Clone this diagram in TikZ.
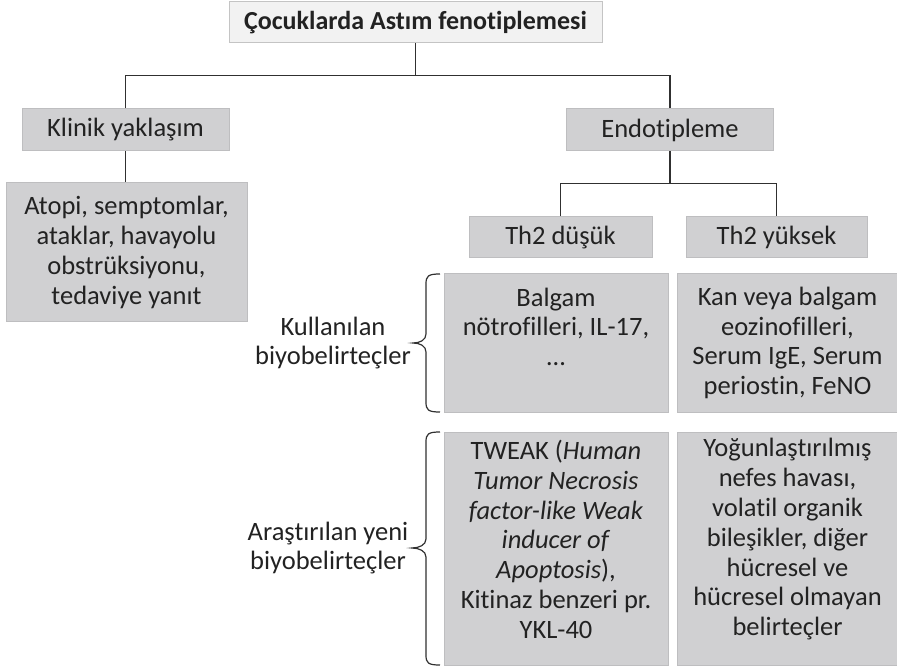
\documentclass[tikz,border=0pt]{standalone}
\usepackage{fontspec}
\setmainfont{Carlito}[Ligatures={NoCommon,NoContextual,NoRare},Contextuals=NoAlternate]
\usetikzlibrary{calc}
\definecolor{txt}{HTML}{222222}
\definecolor{boxfill}{HTML}{D0D0D2}
\definecolor{boxline}{HTML}{BEBEC0}
\definecolor{titlefill}{HTML}{F2F2F2}
\definecolor{titleline}{HTML}{C4C4C4}
\definecolor{conn}{HTML}{303030}
\begin{document}
\begin{tikzpicture}[x=1pt,y=-1pt,
  every node/.style={text=txt,font=\fontsize{26.5}{29.8}\selectfont,inner sep=0pt},
  gbox/.style={draw=boxline,fill=boxfill,line width=1pt,align=center},
  conline/.style={draw=conn,line width=1.3pt},
  bracepath/.style={draw=conn,line width=1.2pt}]
\useasboundingbox (0,0) rectangle (897,668);
% title
\node[draw=titleline,fill=titlefill,line width=1pt,minimum width=373pt,minimum height=41pt,
      font=\fontsize{26}{29.5}\selectfont\bfseries] (title) at (415.5,22.5) {Çocuklarda Astım fenotiplemesi};
% level 1
\node[gbox,minimum width=207pt,minimum height=42pt] (klinik) at (125.5,130) {Klinik yaklaşım};
\node[gbox,minimum width=207pt,minimum height=42pt] (endo) at (670,130) {Endotipleme};
\node[gbox,minimum width=241pt,minimum height=139pt] (atopi) at (126.5,252.5)
  {Atopi, semptomlar,\\ataklar, havayolu\\obstrüksiyonu,\\tedaviye yanıt};
% level 2
\node[gbox,minimum width=183pt,minimum height=41pt] (th2d) at (560.5,237.5) {Th2 düşük};
\node[gbox,minimum width=181pt,minimum height=41pt] (th2y) at (776.5,237.5) {Th2 yüksek};
% biomarker boxes
\node[gbox,minimum width=224pt,minimum height=138pt] (balgam) at (556,343)
  {Balgam\\nötrofilleri, IL-17,\\…\\[-6pt]\strut};
\node[gbox,minimum width=221pt,minimum height=138pt] (kan) at (787.5,343)
  {Kan veya balgam\\eozinofilleri,\\Serum IgE, Serum\\periostin, FeNO};
\node[gbox,minimum width=224pt,minimum height=233pt] (tweak) at (556,548.5)
  {TWEAK (\textit{Human}\\\textit{Tumor Necrosis}\\\textit{factor-like Weak}\\\textit{inducer of}\\\textit{Apoptosis}),\\Kitinaz benzeri pr.\\YKL-40\\[-20pt]\strut};
\node[gbox,minimum width=221pt,minimum height=233pt] (yogun) at (787.5,548.5)
  {Yoğunlaştırılmış\\nefes havası,\\volatil organik\\bileşikler, diğer\\hücresel ve\\hücresel olmayan\\belirteçler\\[-16pt]\strut};
% connectors
\coordinate (j1) at ($(title.south)+(0,32)$);
\draw[conline] (title.south) -- (j1);
\draw[conline] (klinik.north) |- (j1) -| (endo.north);
\draw[conline] (klinik.south) -- (klinik.south |- atopi.north);
\coordinate (j2) at ($(endo.south)+(0,32)$);
\draw[conline] (endo.south) -- (j2);
\draw[conline] (th2d.north) |- (j2) -| (th2y.north);
% braces
\coordinate (b1top) at (440,274);
\coordinate (b1bot) at (440,412);
\coordinate (b1tip) at (413,343);
\draw[bracepath] (b1top) .. controls (428,274) and (426,276) .. (426,284) -- (426,334)
  .. controls (426,340) and (420,343) .. (b1tip)
  .. controls (420,343) and (426,346) .. (426,352) -- (426,402)
  .. controls (426,410) and (428,412) .. (b1bot);
\coordinate (b2top) at (440,432);
\coordinate (b2bot) at (440,665);
\coordinate (b2tip) at (412,548);
\draw[bracepath] (b2top) .. controls (428,432) and (426,434) .. (426,442) -- (426,539)
  .. controls (426,545) and (419,548) .. (b2tip)
  .. controls (419,548) and (426,551) .. (426,557) -- (426,655)
  .. controls (426,663) and (428,665) .. (b2bot);
% brace labels
\node[align=center] (kullab) at (333,343) {Kullanılan\\biyobelirteçler};
\node[align=center] (arlab) at (328,548) {Araştırılan yeni\\biyobelirteçler};
\end{tikzpicture}
\end{document}
